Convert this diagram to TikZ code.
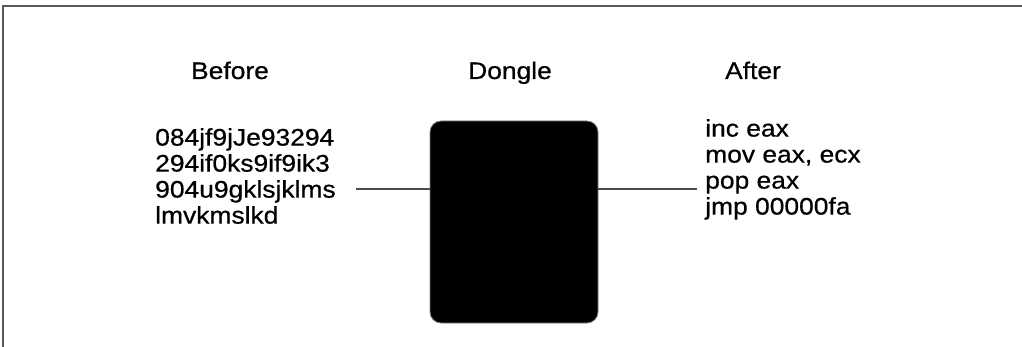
\documentclass[tikz,border=0pt]{standalone}
\usepackage{fontspec}
\setmainfont{Liberation Sans}[BoldFont={Liberation Sans},BoldFeatures={FakeBold=0.6}]
\begin{document}
\begin{tikzpicture}[x=1pt,y=-1pt,
  frame/.style={draw=black!65,line width=2pt},
  wire/.style={draw=black!70,line width=1.3pt},
  dongbox/.style={draw=black!50,line width=0.8pt,fill=black,rounded corners=11pt,minimum width=168pt,minimum height=202pt,inner sep=0pt},
  title/.style={font=\fontsize{24}{26}\selectfont\bfseries,inner sep=0pt,anchor=base,xscale=1.1,transform shape},
  codetxt/.style={font=\fontsize{24}{26}\selectfont\bfseries,inner sep=0pt,align=left,anchor=north west,xscale=1.1,transform shape}
]
\useasboundingbox (0,0) rectangle (1022,347);
\draw[frame] (3,347) -- (3,6) -- (1022,6);
\node[title] (tbefore) at (230,79) {Before};
\node[title] (tdongle) at (510,79) {Dongle};
\node[title] (tafter) at (753,79) {After};
\node[dongbox] (dongle) at (514,222) {};
\node[codetxt] (ltext) at (155,128) {084jf9jJe93294\\294if0ks9if9ik3\\904u9gklsjklms\\lmvkmslkd};
\node[codetxt] (rtext) at (705,119) {inc eax\\mov eax, ecx\\pop eax\\jmp 00000fa};
\coordinate (wirelevel) at (0,189);
\draw[wire] (dongle.west |- wirelevel) -- ([xshift=20pt]ltext.east |- wirelevel);
\draw[wire] (dongle.east |- wirelevel) -- ([xshift=-8pt]rtext.west |- wirelevel);
\end{tikzpicture}
\end{document}
